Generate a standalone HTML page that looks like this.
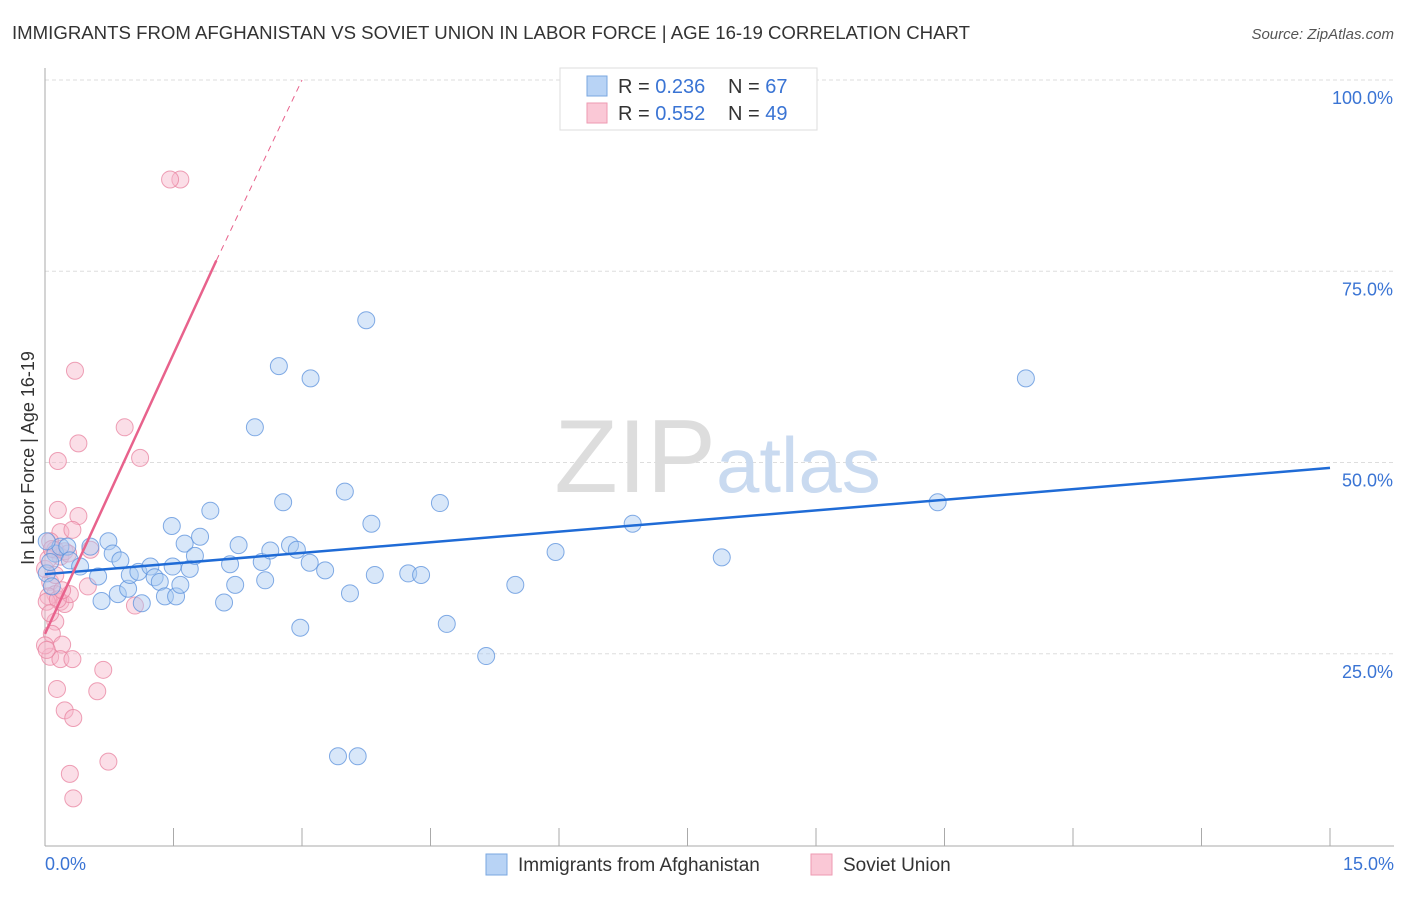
<!DOCTYPE html>
<html><head><meta charset="utf-8"><style>
body{margin:0;background:#fff;font-family:"Liberation Sans",sans-serif}
svg text{font-family:"Liberation Sans",sans-serif}
</style></head><body>
<svg width="1406" height="892" xmlns="http://www.w3.org/2000/svg">
<text x="12" y="39" font-size="18" fill="#333" textLength="958" lengthAdjust="spacingAndGlyphs">IMMIGRANTS FROM AFGHANISTAN VS SOVIET UNION IN LABOR FORCE | AGE 16-19 CORRELATION CHART</text>
<text x="1394" y="39" font-size="15" fill="#555" text-anchor="end" font-style="italic">Source: ZipAtlas.com</text>
<g id="grid"></g>
<text x="716" y="492" font-size="104" fill="#ddd" text-anchor="end" font-family="Liberation Serif">ZIP</text>
<text x="716" y="492" font-size="78" fill="#c9daf0">atlas</text>
<line x1="45" y1="68" x2="45" y2="846" stroke="#aaa"/>
<line x1="45" y1="846" x2="1394" y2="846" stroke="#aaa"/>
<text x="34" y="458" font-size="18" fill="#333" text-anchor="middle" transform="rotate(-90 34 458)">In Labor Force | Age 16-19</text>
<text x="45" y="870" font-size="18" fill="#3a74d4">0.0%</text>
<text x="1394" y="870" font-size="18" fill="#3a74d4" text-anchor="end">15.0%</text>
<g id="points"></g>
<g id="trends"></g>
<g>
<rect x="560" y="68" width="257" height="62" fill="#fff" stroke="#ddd"/>
<rect x="587" y="76" width="20" height="20" fill="#b8d3f5" stroke="#7aa7e0"/>
<rect x="587" y="103" width="20" height="20" fill="#fac8d6" stroke="#ee9ab2"/>
<text x="618" y="93" font-size="20" fill="#333">R = <tspan fill="#3a74d4">0.236</tspan></text>
<text x="728" y="93" font-size="20" fill="#333">N = <tspan fill="#3a74d4">67</tspan></text>
<text x="618" y="120" font-size="20" fill="#333">R = <tspan fill="#3a74d4">0.552</tspan></text>
<text x="728" y="120" font-size="20" fill="#333">N = <tspan fill="#3a74d4">49</tspan></text>
</g>
<g>
<rect x="486" y="854" width="21" height="21" fill="#b8d3f5" stroke="#7aa7e0"/>
<text x="518" y="871" font-size="19" fill="#333">Immigrants from Afghanistan</text>
<rect x="811" y="854" width="21" height="21" fill="#fac8d6" stroke="#ee9ab2"/>
<text x="843" y="871" font-size="19" fill="#333">Soviet Union</text>
</g>
</svg>
<script>
const yTicks=[25,50,75,100];
const xTicks=[1.5,3,4.5,6,7.5,9,10.5,12,13.5,15];
const blueX=[0.12,0.18,0.26,0.29,0.41,0.53,0.62,0.74,0.79,0.88,0.66,0.85,0.97,0.99,1.09,1.13,1.23,1.28,1.34,1.4,1.49,1.53,1.58,1.48,1.63,1.69,1.75,1.81,1.93,2.09,2.16,2.22,2.26,2.53,2.57,2.63,2.45,2.73,2.78,2.86,2.94,2.98,3.1,3.09,3.27,3.42,3.65,3.5,3.56,3.75,3.81,3.85,4.24,4.39,4.61,4.69,5.15,5.49,5.96,6.86,7.9,10.42,11.45,0.02,0.08,0.06,0.02];
const blueY=[38.1,39,39,37.2,36.4,39,35.1,39.7,38.1,37.2,31.9,32.8,33.5,35.3,35.7,31.6,36.4,35,34.4,32.5,36.4,32.5,34,41.7,39.4,36.1,37.8,40.3,43.7,31.7,36.7,34,39.2,37,34.6,38.5,54.6,62.6,44.8,39.2,38.6,28.4,61,36.9,35.9,11.6,11.6,46.2,32.9,68.6,42,35.3,35.5,35.3,44.7,28.9,24.7,34,38.3,42,37.6,44.8,61,35.5,33.8,37,39.7];
const pinkX=[1.58,1.46,0.35,0.93,0.39,1.11,0.15,0.15,0.39,0.18,0.32,0.06,0.12,0.18,0.53,0.23,0.06,0.12,0.18,0.04,0.23,0.29,0.5,1.05,0.12,0.08,0.2,0.06,0.18,0.32,0.68,0.14,0.61,0.23,0.33,0.74,0.29,0.33,0,0.04,0.08,0.02,0.15,0.06,0.2,0.12,0.27,0,0.02];
const pinkY=[87,87,62,54.6,52.5,50.6,50.2,43.8,43,40.9,41.2,39.7,38.6,37.7,38.6,38.4,34.4,32.8,31.8,32.5,31.5,32.8,33.8,31.3,29.2,27.6,26.2,24.6,24.3,24.3,22.9,20.4,20.1,17.6,16.6,10.9,9.3,6.1,36.1,37.4,38.7,31.8,32.1,30.3,33.3,35.3,38.1,26.1,25.5];
const blueTrend=[0,35.4,15,49.3];
const pinkTrend=[0,27.6,2,76.4,3.0,100];
const NS="http://www.w3.org/2000/svg";
const X=v=>45+v*(1330-45)/15, Y=v=>845-v*(845-80)/100;
const grid=document.getElementById('grid');
yTicks.forEach(t=>{
 const l=document.createElementNS(NS,'line');
 l.setAttribute('x1',45);l.setAttribute('x2',1394);l.setAttribute('y1',Y(t));l.setAttribute('y2',Y(t));
 l.setAttribute('stroke','#ddd');l.setAttribute('stroke-dasharray','4,3');
 
 
 grid.appendChild(l);
 const tx=document.createElementNS(NS,'text');
 tx.setAttribute('x',1393);tx.setAttribute('y',Y(t)+24);tx.setAttribute('text-anchor','end');
 tx.setAttribute('font-size','18');tx.setAttribute('fill','#3a74d4');tx.textContent=t.toFixed(1)+'%';
 
 
 grid.appendChild(tx);
});
xTicks.forEach(t=>{
 const l=document.createElementNS(NS,'line');
 l.setAttribute('x1',X(t));l.setAttribute('x2',X(t));l.setAttribute('y1',828);l.setAttribute('y2',846);
 l.setAttribute('stroke','#aaa');
 
 
 grid.appendChild(l);
});
const pts=document.getElementById('points');
function dots(xs,ys,fill,stroke,name){
 xs.forEach((x,i)=>{
  const c=document.createElementNS(NS,'circle');
  c.setAttribute('cx',X(x));c.setAttribute('cy',Y(ys[i]));c.setAttribute('r',8.5);
  c.setAttribute('fill',fill);c.setAttribute('fill-opacity','0.45');c.setAttribute('stroke',stroke);c.setAttribute('stroke-opacity','0.75');c.setAttribute('stroke-width','1');
  
  
  pts.appendChild(c);
 });
}
dots(pinkX,pinkY,'#f7b6c9','#e8829f','soviet-union-point');
dots(blueX,blueY,'#a9c9f2','#5a90dc','afghanistan-point');
const tr=document.getElementById('trends');
function line(x1,y1,x2,y2,col,w,dash,name){
 const l=document.createElementNS(NS,'line');
 l.setAttribute('x1',X(x1));l.setAttribute('y1',Y(y1));l.setAttribute('x2',X(x2));l.setAttribute('y2',Y(y2));
 l.setAttribute('stroke',col);l.setAttribute('stroke-width',w);if(dash)l.setAttribute('stroke-dasharray',dash);
 
 
 tr.appendChild(l);
}
line(blueTrend[0],blueTrend[1],blueTrend[2],blueTrend[3],'#1f6bd6',2.5,null,'afghanistan-trendline');
line(pinkTrend[0],pinkTrend[1],pinkTrend[2],pinkTrend[3],'#e8628c',2.5,null,'soviet-trendline');
line(pinkTrend[2],pinkTrend[3],pinkTrend[4],pinkTrend[5],'#e8628c',1,'6,5','soviet-trendline-extension');
</script>
</body></html>
